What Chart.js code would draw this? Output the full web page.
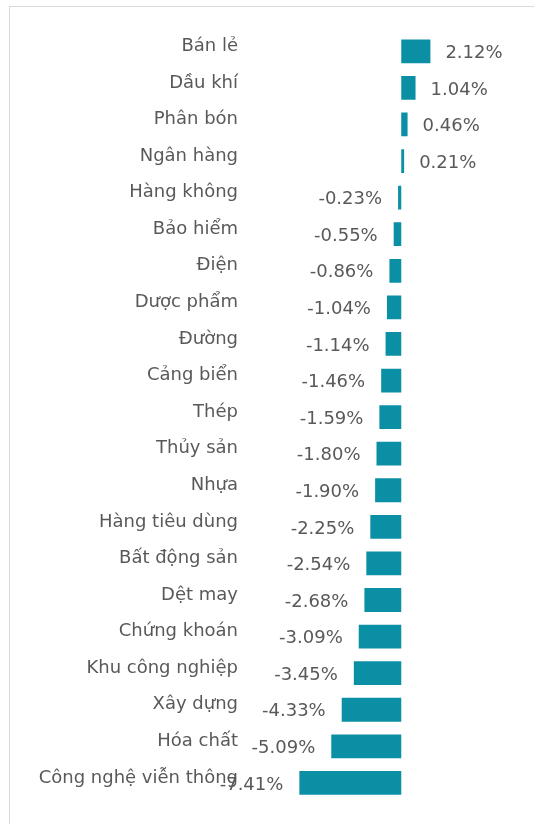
<!DOCTYPE html>
<html>
<head>
<meta charset="utf-8">
<script src="https://cdn.jsdelivr.net/npm/chart.js@4"></script>
<style>
  html, body { margin: 0; padding: 0; background: #fff; overflow: hidden; }
  #wrap { position: relative; width: 534px; height: 824px; overflow: hidden; }
  #frame { position: absolute; left: 9px; top: 6px; width: 600px; height: 900px; border: 1px solid #d9d9d9; box-sizing: border-box; }
  canvas { position: absolute; left: 0; top: 0; }
</style>
</head>
<body>
<div id="wrap">
  <div id="frame"></div>
  <canvas id="barChart" width="534" height="824"></canvas>
</div>
<script>
// Ngành và mức thay đổi (%)
const labels = ['Bán lẻ', 'Dầu khí', 'Phân bón', 'Ngân hàng', 'Hàng không', 'Bảo hiểm', 'Điện',
  'Dược phẩm', 'Đường', 'Cảng biển', 'Thép', 'Thủy sản', 'Nhựa', 'Hàng tiêu dùng', 'Bất động sản',
  'Dệt may', 'Chứng khoán', 'Khu công nghiệp', 'Xây dựng', 'Hóa chất', 'Công nghệ viễn thông'];
const values = [2.12, 1.04, 0.46, 0.21, -0.23, -0.55, -0.86, -1.04, -1.14, -1.46, -1.59, -1.80,
  -1.90, -2.25, -2.54, -2.68, -3.09, -3.45, -4.33, -5.09, -7.41];

const fontFamily = 'DejaVu Sans, Verdana, sans-serif';
const textColor = '#595959';

// Nhãn giá trị cạnh thanh
const valueLabels = {
    id: 'valueLabels',
    afterDatasetsDraw(chart) {
        const ctx = chart.ctx;
        const meta = chart.getDatasetMeta(0);
        ctx.save();
        ctx.font = '18px ' + fontFamily;
        ctx.fillStyle = textColor;
        ctx.textBaseline = 'middle';
        meta.data.forEach((bar, i) => {
            const v = values[i];
            const txt = v.toFixed(2) + '%';
            if (v >= 0) {
                ctx.textAlign = 'left';
                ctx.fillText(txt, bar.x + 15, bar.y + 2);
            } else {
                ctx.textAlign = 'right';
                ctx.fillText(txt, bar.x - 16, bar.y + 2);
            }
        });
        ctx.restore();
    }
};

const barChart = new Chart(document.getElementById('barChart'), {
    type: 'bar',
    data: {
        labels: labels,
        datasets: [{
            data: values,
            backgroundColor: '#0b8fa5',
            borderWidth: 0,
            categoryPercentage: 1,
            barPercentage: 0.65
        }]
    },
    options: {
        indexAxis: 'y',
        responsive: false,
        animation: false,
        layout: { padding: { left: 0, right: 9, top: 33, bottom: 22 } },
        plugins: {
            legend: { display: false },
            tooltip: { enabled: false }
        },
        scales: {
            x: {
                min: -11,
                max: 9,
                display: false,
                grid: { display: false }
            },
            y: {
                grid: { display: false, drawTicks: false },
                border: { display: false },
                afterFit(scale) { scale.width = 250; },
                ticks: {
                    color: textColor,
                    padding: 12,
                    labelOffset: -5,
                    font: { family: fontFamily, size: 18 }
                }
            }
        }
    },
    plugins: [valueLabels]
});
</script>
</body>
</html>
